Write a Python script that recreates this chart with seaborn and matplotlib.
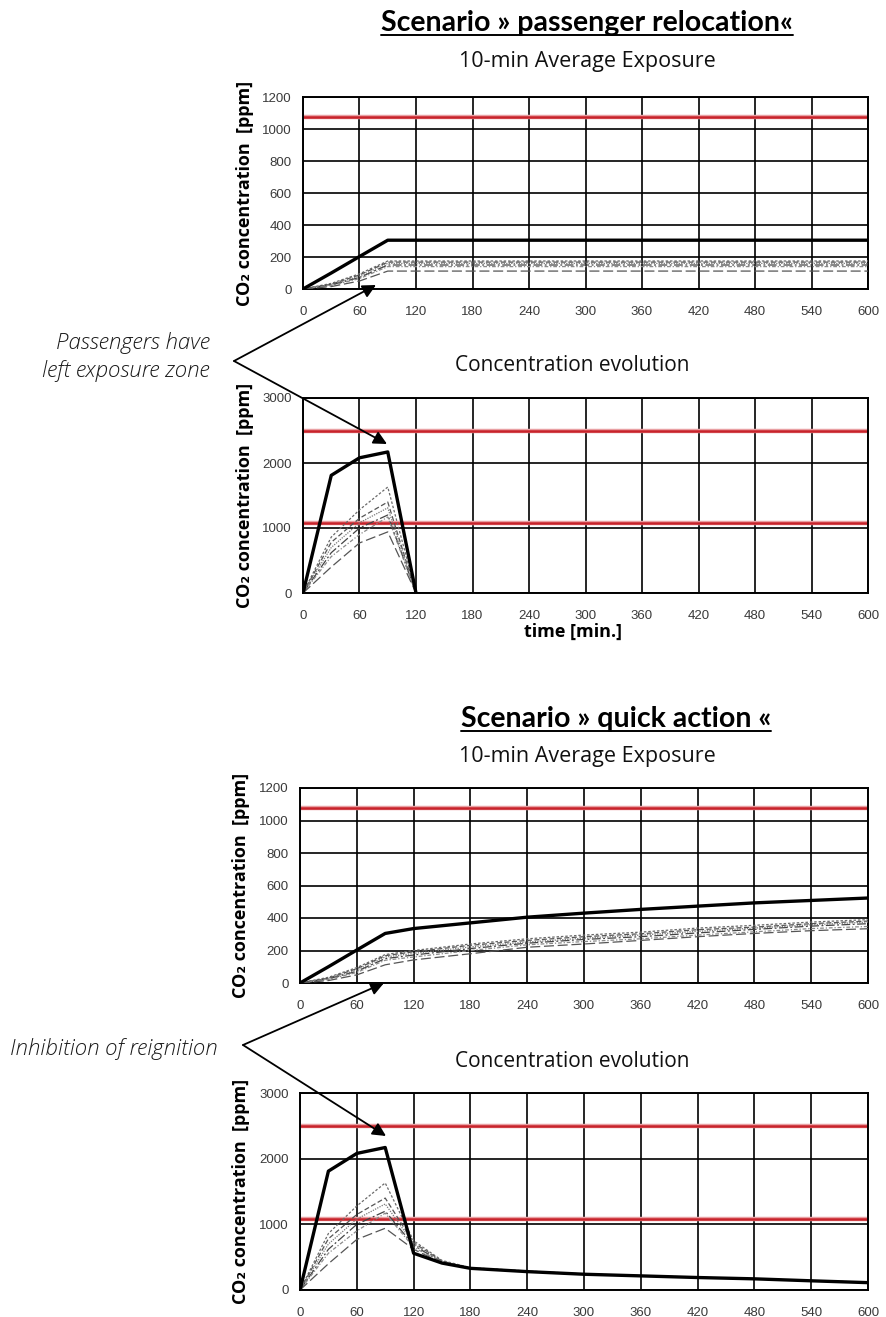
import numpy as np
import pandas as pd
import matplotlib
matplotlib.use("Agg")
import matplotlib.pyplot as plt
import seaborn as sns
from matplotlib.lines import Line2D

sns.set_theme(style="white")
plt.rcParams["font.family"] = ["Liberation Sans", "DejaVu Sans"]

# ---------------- data ----------------
series_names = ["Case 0", "Case 1", "Case 2", "Case 3", "Case 4", "Case 5", "Case 6"]

exp_time = [0, 30, 60, 90, 120, 180, 240, 300, 360, 420, 480, 540, 600]
reloc_exposure = {
    "Case 0": [0, 100, 203, 305, 305, 305, 305, 305, 305, 305, 305, 305, 305],
    "Case 1": [0, 35, 95, 175, 175, 175, 175, 175, 175, 175, 175, 175, 175],
    "Case 2": [0, 30, 88, 168, 168, 168, 168, 168, 168, 168, 168, 168, 168],
    "Case 3": [0, 28, 80, 160, 160, 160, 160, 160, 160, 160, 160, 160, 160],
    "Case 4": [0, 25, 72, 150, 150, 150, 150, 150, 150, 150, 150, 150, 150],
    "Case 5": [0, 22, 65, 140, 140, 140, 140, 140, 140, 140, 140, 140, 140],
    "Case 6": [0, 15, 50, 112, 112, 112, 112, 112, 112, 112, 112, 112, 112],
}
quick_exposure = {
    "Case 0": [0, 100, 203, 305, 335, 370, 405, 430, 453, 473, 493, 508, 523],
    "Case 1": [0, 35, 95, 175, 200, 240, 272, 295, 313, 338, 355, 375, 390],
    "Case 2": [0, 30, 88, 168, 192, 232, 262, 285, 303, 328, 344, 365, 381],
    "Case 3": [0, 28, 80, 160, 182, 222, 252, 276, 295, 318, 338, 358, 375],
    "Case 4": [0, 25, 72, 150, 172, 212, 245, 268, 285, 308, 330, 350, 365],
    "Case 5": [0, 22, 65, 140, 160, 200, 235, 255, 272, 295, 315, 335, 348],
    "Case 6": [0, 15, 50, 112, 142, 180, 220, 240, 262, 285, 305, 322, 334],
}

reloc_conc_time = [0, 30, 60, 90, 120]
reloc_conc = {
    "Case 0": [0, 1810, 2080, 2170, 0],
    "Case 1": [0, 860, 1280, 1630, 0],
    "Case 2": [0, 780, 1150, 1400, 0],
    "Case 3": [0, 700, 1080, 1310, 0],
    "Case 4": [0, 620, 1000, 1200, 0],
    "Case 5": [0, 560, 900, 1170, 0],
    "Case 6": [0, 400, 770, 940, 0],
}

quick_conc_time = [0, 30, 60, 90, 120, 150, 180, 240, 300, 360, 420, 480, 540, 600]
quick_conc = {
    "Case 0": [0, 1810, 2080, 2170, 560, 410, 330, 280, 240, 215, 190, 170, 140, 112],
    "Case 1": [0, 860, 1280, 1630, 750, 450, 340, 290, 245, 220, 195, 172, 145, 118],
    "Case 2": [0, 780, 1150, 1400, 720, 440, 335, 287, 243, 218, 193, 170, 143, 116],
    "Case 3": [0, 700, 1080, 1310, 700, 430, 335, 285, 242, 217, 192, 168, 142, 115],
    "Case 4": [0, 620, 1000, 1200, 680, 420, 330, 282, 240, 216, 190, 168, 141, 114],
    "Case 5": [0, 560, 900, 1170, 650, 420, 330, 280, 238, 214, 189, 167, 140, 113],
    "Case 6": [0, 400, 770, 940, 620, 410, 328, 278, 236, 212, 188, 166, 139, 112],
}

threshold_exposure = [1075]
threshold_conc = [1075, 2500]

x_ticks = list(range(0, 601, 60))
exp_y_ticks = [0, 200, 400, 600, 800, 1000, 1200]
conc_y_ticks = [0, 1000, 2000, 3000]

# ---------------- styles ----------------
palette = {"Case 0": "#000000", "Case 1": "#6a6a6a", "Case 2": "#555555",
           "Case 3": "#7a7a7a", "Case 4": "#444444", "Case 5": "#8a8a8a",
           "Case 6": "#555555"}
dashes = {"Case 0": "", "Case 1": (2, 1.5), "Case 2": (4, 2), "Case 3": (1, 1),
          "Case 4": (7, 2, 1.5, 2), "Case 5": (3, 1.5, 1, 1.5), "Case 6": (8, 3)}
sizes = {"Case 0": 2.4, "Case 1": 0.9, "Case 2": 0.9, "Case 3": 0.9,
         "Case 4": 0.9, "Case 5": 0.9, "Case 6": 0.9}

W, H = 887, 1317
fig = plt.figure(figsize=(W / 100, H / 100), dpi=100)

ylabel_kw = dict(fontsize=13, fontweight="bold", family=["Open Sans", "DejaVu Sans"], color="black")


def px_axes(left, top, right, bottom):
    return fig.add_axes([left / W, 1 - bottom / H, (right - left) / W, (bottom - top) / H])


def to_long(times, data):
    rows = []
    for name in series_names:
        for t, v in zip(times, data[name]):
            rows.append({"time": t, "value": v, "series": name})
    return pd.DataFrame(rows)


def draw_panel(ax, times, data, ymax, yticks, reds, ylabel_x):
    df = to_long(times, data)
    order = series_names[1:] + series_names[:1]
    sns.lineplot(data=df, x="time", y="value", hue="series", style="series",
                 size="series", hue_order=order, style_order=order, size_order=order,
                 palette=palette, dashes=dashes, sizes=sizes, legend=False,
                 estimator=None, sort=False, ax=ax, zorder=3)
    for lvl in reds:
        ax.axhline(lvl, color="#e9a0a3", lw=3.2, zorder=2.4)
        ax.axhline(lvl, color="#c8232b", lw=1.8, zorder=2.5)
    ax.set_xlim(0, 600)
    ax.set_ylim(0, ymax)
    ax.set_xticks(x_ticks)
    ax.set_yticks(yticks)
    ax.grid(True, color="black", lw=1.2, zorder=1)
    ax.set_axisbelow(True)
    for sp in ax.spines.values():
        sp.set_color("black")
        sp.set_linewidth(1.4)
        sp.set_visible(True)
    ax.tick_params(length=0, labelsize=9.5, colors="#3a3a3a")
    ax.tick_params(axis="y", pad=8)
    ax.tick_params(axis="x", pad=12)
    ax.set_xlabel("")
    ax.set_ylabel("CO₂ concentration  [ppm]", **ylabel_kw)
    ax.yaxis.set_label_coords(ylabel_x, 0.5)


ax1 = px_axes(303, 97, 868, 289)
draw_panel(ax1, exp_time, reloc_exposure, 1200, exp_y_ticks, threshold_exposure, -0.087)
ax2 = px_axes(303, 398, 868, 593)
draw_panel(ax2, reloc_conc_time, reloc_conc, 3000, conc_y_ticks, threshold_conc, -0.087)
ax3 = px_axes(300, 788, 868, 983)
draw_panel(ax3, exp_time, quick_exposure, 1200, exp_y_ticks, threshold_exposure, -0.088)
ax4 = px_axes(300, 1093, 868, 1290)
draw_panel(ax4, quick_conc_time, quick_conc, 3000, conc_y_ticks, threshold_conc, -0.088)

# ---------------- overlay for texts & arrows ----------------
ov = fig.add_axes([0, 0, 1, 1])
ov.set_xlim(0, W)
ov.set_ylim(H, 0)
ov.axis("off")
ov.patch.set_alpha(0)


def title_underlined(x, y, s, size):
    t = ov.text(x, y, s, ha="center", va="baseline", fontsize=size, fontweight="bold",
                family=["Lato", "DejaVu Sans"], color="black")
    fig.canvas.draw()
    bb = t.get_window_extent(fig.canvas.get_renderer())
    x0 = bb.x0 / fig.dpi * 100
    x1 = bb.x1 / fig.dpi * 100
    ov.add_line(Line2D([x0, x1], [y + 4, y + 4], color="black", lw=1.4))


title_underlined(587, 31, "Scenario » passenger relocation«", 20.5)
title_underlined(616, 727, "Scenario » quick action «", 20.5)

sub_kw = dict(ha="center", va="baseline", family=["Open Sans", "DejaVu Sans"], color="#111111")
ov.text(587, 67, "10-min Average Exposure", fontsize=15.5, **sub_kw)
ov.text(572, 371, "Concentration evolution", fontsize=15, **sub_kw)
ov.text(587, 762, "10-min Average Exposure", fontsize=15.5, **sub_kw)
ov.text(572, 1067, "Concentration evolution", fontsize=15, **sub_kw)

ov.text(573, 637, "time [min.]", ha="center", va="baseline", fontsize=13, fontweight="bold",
        family=["Open Sans", "DejaVu Sans"], color="black")

ann_kw = dict(fontsize=16, style="italic", fontweight="light",
              family=["Open Sans", "DejaVu Sans"], color="#1a1a1a", va="baseline")
ov.text(210, 349, "Passengers have", ha="right", **ann_kw)
ov.text(210, 377, "left exposure zone", ha="right", **ann_kw)
ov.text(10, 1055, "Inhibition of reignition", ha="left", **ann_kw)

arrow_kw = dict(arrowstyle="-|>", color="black", lw=1.3, mutation_scale=20,
                shrinkA=0, shrinkB=0)
ov.annotate("", xy=(376, 285), xytext=(234, 361), arrowprops=arrow_kw)
ov.annotate("", xy=(387, 444), xytext=(234, 361), arrowprops=arrow_kw)
ov.annotate("", xy=(384, 983), xytext=(243, 1045), arrowprops=arrow_kw)
ov.annotate("", xy=(386, 1136), xytext=(243, 1045), arrowprops=arrow_kw)

fig.savefig("out.png", dpi=100)
